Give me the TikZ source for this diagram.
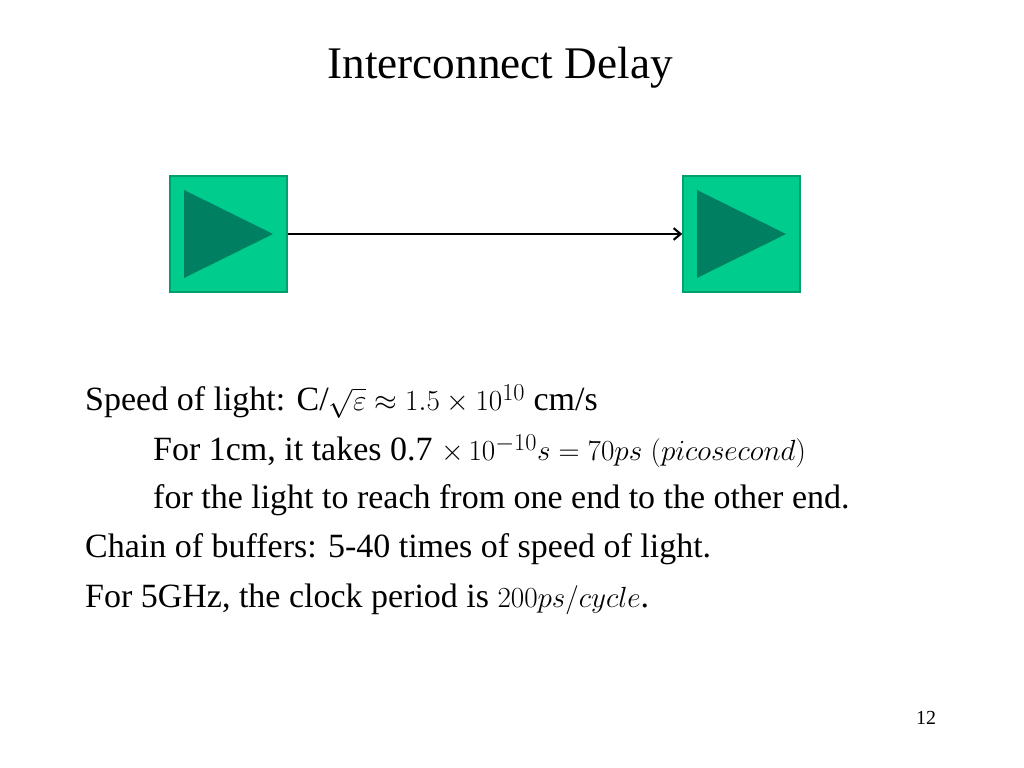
\documentclass[tikz,border=0pt]{standalone}
\usepackage{fontspec}
\setmainfont{Liberation Serif}
\usetikzlibrary{positioning,arrows.meta}
\definecolor{bufgreen}{RGB}{0,204,142}
\definecolor{bufedge}{RGB}{0,160,110}
\definecolor{tridark}{RGB}{0,128,96}
\tikzset{
 bufbox/.style={draw=bufedge,line width=1.5pt,fill=bufgreen,minimum width=3.5cm,minimum height=3.5cm,inner sep=0pt},
 txt/.style={anchor=base west,inner sep=0pt,font=\fontsize{29}{34}\selectfont}
}
\begin{document}
\begin{tikzpicture}[x=0.03cm,y=-0.03cm]
 \useasboundingbox (0,0) rectangle (1024,768);
 \node (title) at (500,68) [font=\fontsize{38.6}{44}\selectfont] {Interconnect Delay};
 \node (buf 1) at (228.5,234) [bufbox] {};
 \node (buf 2) at (741.5,234) [bufbox] {};
 \fill[tridark] (184,190) -- (273,234) -- (184,278) -- cycle;
 \fill[tridark] (697,190) -- (786,234) -- (697,278) -- cycle;
 \draw[line width=1.8pt,-{Straight Barb[length=6pt,width=10pt]}] (buf 1.east) -- (buf 2.west);
 \node (line 1) at (85,411) [txt] {Speed of light: C/$\sqrt{\varepsilon}\approx 1.5\times10^{10}$ cm/s};
 \node (line 2) at (153,461) [txt] {For 1cm, it takes 0.7 $\times\,10^{-10}s=70ps\ (picosecond)$};
 \node (line 3) at (153,509) [txt] {for the light to reach from one end to the other end.};
 \node (line 4) at (85,558) [txt] {Chain of buffers: 5-40 times of speed of light.};
 \node (line 5) at (85,607) [txt] {For 5GHz, the clock period is $200ps/cycle$.};
 \node (page) at (926,718) [font=\fontsize{17}{20}\selectfont] {12};
\end{tikzpicture}
\end{document}
